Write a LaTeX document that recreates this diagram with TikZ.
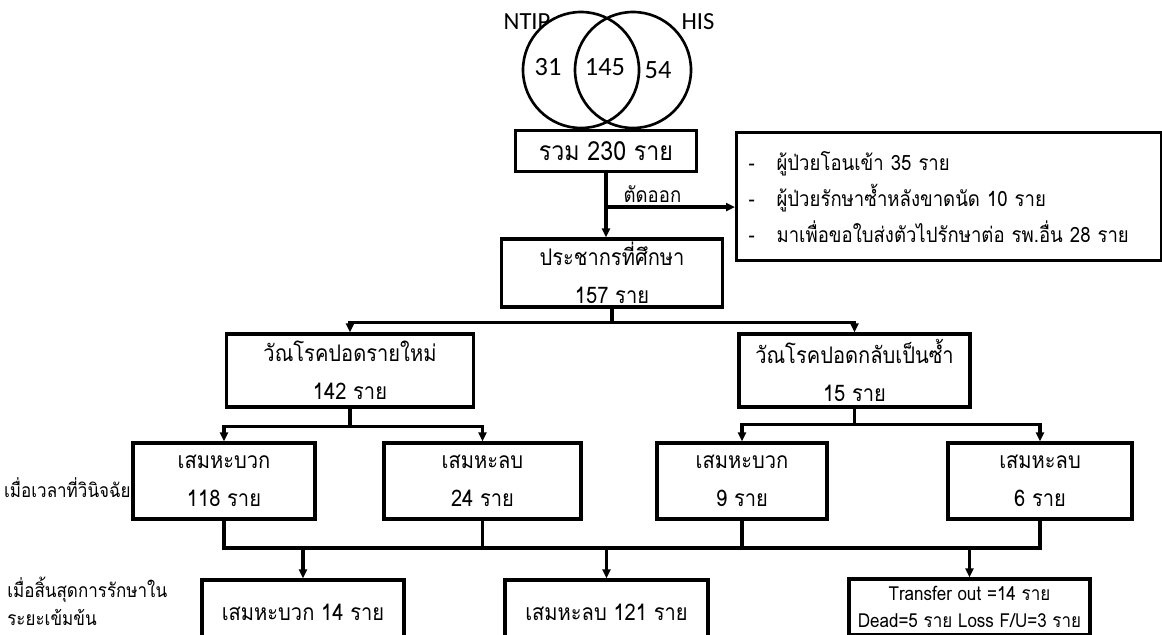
\documentclass[tikz,border=0pt]{standalone}
\usepackage{fontspec}
\setmainfont{Carlito}
\newfontfamily\thaifont[Script=Thai, FakeStretch=0.88]{Loma}
\usetikzlibrary{positioning,arrows.meta}

\begin{document}
\begin{tikzpicture}[x=0.2mm, y=-0.2mm,
  box/.style={draw, line width=1.8pt, align=center, inner sep=0pt, font=\thaifont\fontsize{13}{21.5}\selectfont},
  link/.style={line width=1.8pt},
  arr/.style={line width=1.8pt, -{Triangle[length=1.8mm,width=1.6mm]}},
  venn/.style={draw, circle, line width=1.5pt, minimum size=23.2mm, inner sep=0pt},
  side/.style={inner sep=0pt, font=\thaifont\fontsize{11}{16}\selectfont}]
\useasboundingbox (0,0) rectangle (1162,634);

% Venn diagram
\node[venn] (ntipc) at (581,70) {};
\node[venn] (hisc) at (633,70) {};
\node[font=\fontsize{14}{16}\selectfont] (ntipl) at (527,22) {NTIP};
\node[font=\fontsize{14}{16}\selectfont] (hisl) at (698,22) {HIS};
\node[font=\fontsize{15}{17}\selectfont] (only1) at (548,67) {31};
\node[font=\fontsize{15}{17}\selectfont] (both) at (605,67) {145};
\node[font=\fontsize{15}{17}\selectfont] (only2) at (658,70) {54};

% Total and exclusions
\node[box, minimum width=36.2mm, minimum height=8.2mm, font=\thaifont\fontsize{15}{16}\selectfont] (total) at (606,151) {รวม 230 ราย};
\node[box, anchor=north west, text width=80.2mm, minimum height=25.6mm, inner xsep=2.4mm, align=left,
      font=\thaifont\fontsize{12}{20.5}\selectfont] (excl) at (735,131)
  {\makebox[5.6mm][l]{-}ผู้ป่วยโอนเข้า 35 ราย\\
   \makebox[5.6mm][l]{-}ผู้ป่วยรักษาซ้ำหลังขาดนัด 10 ราย\\
   \makebox[5.6mm][l]{-}มาเพื่อขอใบส่งตัวไปรักษาต่อ รพ.อื่น 28 ราย};

% Study population
\node[box, minimum width=44.2mm, minimum height=13.6mm] (study) at (612,273) {ประชากรที่ศึกษา\\157 ราย};

% TB type
\node[box, minimum width=49.4mm, minimum height=14.6mm] (newtb) at (350,370.5) {วัณโรคปอดรายใหม่\\142 ราย};
\node[box, minimum width=46.2mm, minimum height=14.6mm] (retb) at (854.5,370.5) {วัณโรคปอดกลับเป็นซ้ำ\\15 ราย};

% Sputum at diagnosis
\node[box, minimum width=36.4mm, minimum height=15.2mm] (pos1) at (224,481) {เสมหะบวก\\118 ราย};
\node[box, minimum width=39.4mm, minimum height=15.2mm] (neg1) at (482.5,481) {เสมหะลบ\\24 ราย};
\node[box, minimum width=34mm, minimum height=15.2mm] (pos2) at (742,481) {เสมหะบวก\\9 ราย};
\node[box, minimum width=36.8mm, minimum height=15.2mm] (neg2) at (1040,481) {เสมหะลบ\\6 ราย};

% End of intensive phase
\node[box, minimum width=40.4mm, minimum height=12.8mm] (out1) at (303,612) {เสมหะบวก 14 ราย};
\node[box, minimum width=40.6mm, minimum height=12.8mm] (out2) at (606.5,612) {เสมหะลบ 121 ราย};
\node[box, minimum width=48.2mm, minimum height=11.2mm, font=\thaifont\fontsize{11}{15}\selectfont] (out3) at (969.5,607)
  {Transfer out =14 ราย\\Dead=5 ราย Loss F/U=3 ราย};

% Side labels
\node[side, anchor=east] (diaglbl) at (131,488) {เมื่อเวลาที่วินิจฉัย};
\node[side, anchor=west, align=left] (endlbl) at (7,601) {เมื่อสิ้นสุดการรักษาใน\\ระยะเข้มข้น};

% Connectors
\draw[arr] (total.south) -- (total.south |- study.north);
\coordinate (cut) at (total.south |- 0,207);
\draw[arr] (cut) -- (cut -| excl.west)
  node[pos=0.36, above, inner sep=1.5pt, font=\thaifont\fontsize{12}{13}\selectfont] (cutlbl) {ตัดออก};

\draw[arr] (study.south) -- ++(0,14) -| (newtb.north);
\draw[arr] (study.south) -- ++(0,14) -| (retb.north);

\draw[arr] (newtb.south) -- ++(0,18) -| (pos1.north);
\draw[arr] (newtb.south) -- ++(0,18) -| (neg1.north);
\draw[arr] (retb.south) -- ++(0,16) -| (pos2.north);
\draw[arr] (retb.south) -- ++(0,16) -| (neg2.north);

\coordinate (bus) at (0,548);
\draw[link] (pos1.south) |- (bus -| neg2.south) -- (neg2.south);
\draw[link] (neg1.south) -- (neg1.south |- bus);
\draw[link] (pos2.south) -- (pos2.south |- bus);
\draw[arr] (out1.north |- bus) -- (out1.north);
\draw[arr] (out2.north |- bus) -- (out2.north);
\draw[arr] (out3.north |- bus) -- (out3.north);

\end{tikzpicture}
\end{document}
